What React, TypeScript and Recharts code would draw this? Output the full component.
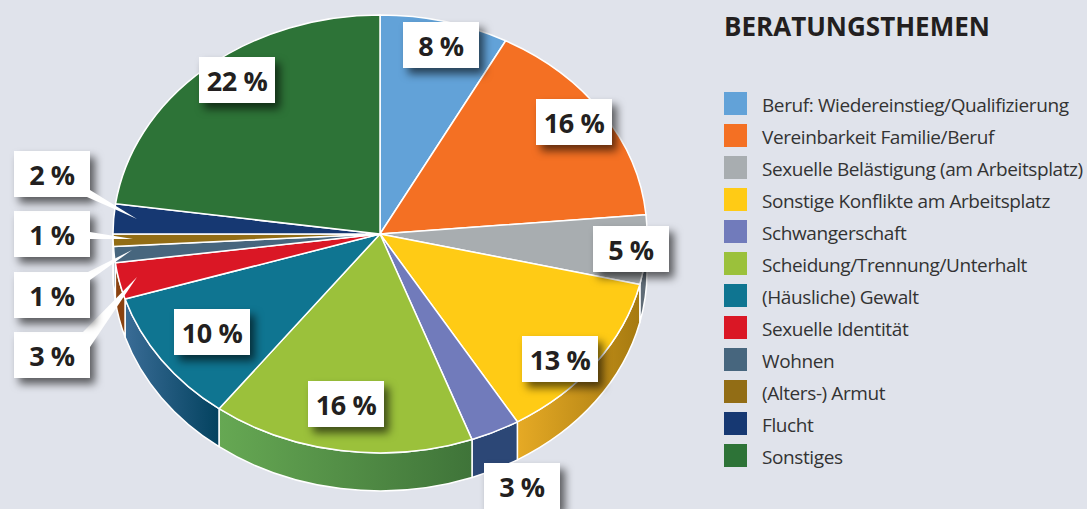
import React from "react";
import { PieChart, Pie, Legend } from "recharts";

const categories = [
  "Beruf: Wiedereinstieg/Qualifizierung",
  "Vereinbarkeit Familie/Beruf",
  "Sexuelle Belästigung (am Arbeitsplatz)",
  "Sonstige Konflikte am Arbeitsplatz",
  "Schwangerschaft",
  "Scheidung/Trennung/Unterhalt",
  "(Häusliche) Gewalt",
  "Sexuelle Identität",
  "Wohnen",
  "(Alters-) Armut",
  "Flucht",
  "Sonstiges",
];
const shares = [7.8, 15.8, 5.1, 12.7, 3, 15.9, 9.9, 2.7, 1.2, 0.9, 2.2, 22.8];
// Printed labels
const printed = ["8 %", "16 %", "5 %", "13 %", "3 %", "16 %", "10 %", "3 %", "1 %", "1 %", "2 %", "22 %"];

const topColors = ["#62A2D8", "#F47023", "#A8ADB0", "#FFCB15", "#717BBB", "#9BC13B", "#0F7591", "#DA1725", "#47667E", "#926D15", "#163872", "#2D7337"];
const wallFrom = ["#62A2D8", "#F47023", "#5F6B76", "#E6AA25", "#2C4776", "#66A853", "#3A6C96", "#8A4210", "#47667E", "#926D15", "#163872", "#2D7337"];
const wallTo = ["#62A2D8", "#F47023", "#5F6B76", "#A67A10", "#2C4776", "#3F7439", "#03425F", "#8A4210", "#47667E", "#926D15", "#163872", "#2D7337"];

// Label box top-left corners
const labelBoxes: [number, number][] = [
  [403, 22], [536, 99], [593, 226], [522, 336], [484, 463], [308, 381],
  [174, 309], [14, 332], [14, 272], [14, 211], [14, 151], [199, 57],
];
// White pointers from outside boxes into thin slices
const pointers: Record<number, string> = {
  7: "83,332 90,347 137,277",
  8: "88,272 90,280 132,250",
  9: "90,232 90,239 133,239",
  10: "87,197 90,190 137,219",
};

const BOX_W = 76;
const BOX_H = 46;
const CX = 380;
const CY = 234;
const RX = 267;
const RY = 219;
const DEPTH = 38;
const BG = "#E0E3EB";
const INK = "#231F20";
const FONT = "'Open Sans', sans-serif";

const tableData = categories.map((name, i) => ({ name, value: shares[i], fill: topColors[i] }));

function Slice3D(props: any) {
  const { startAngle: s, endAngle: e, cx, cy, outerRadius, index, fill } = props;
  const rx = outerRadius;
  const ry = (outerRadius * RY) / RX;
  const p = (a: number, dy = 0) => {
    const r = (a * Math.PI) / 180;
    return `${cx + rx * Math.cos(r)},${cy + dy - ry * Math.sin(r)}`;
  };
  const i = index ?? topColors.indexOf(fill);
  const large = Math.abs(s - e) > 180 ? 1 : 0;
  const wallS = Math.min(s, 0);
  const wallE = Math.max(e, -180);
  const hasWall = wallS > wallE;
  const gid = `wall-${i}`;
  return (
    <g>
      {hasWall && (
        <>
          <defs>
            <linearGradient id={gid} x1="0" y1="0" x2="1" y2="0">
              <stop offset="0" stopColor={wallFrom[i]} />
              <stop offset="1" stopColor={wallTo[i]} />
            </linearGradient>
          </defs>
          <path
            d={`M${p(wallS)} A${rx} ${ry} 0 0 1 ${p(wallE)} L${p(wallE, DEPTH)} A${rx} ${ry} 0 0 0 ${p(wallS, DEPTH)} Z`}
            fill={`url(#${gid})`}
            stroke="#fff"
            strokeWidth={1.5}
            strokeLinejoin="round"
          />
        </>
      )}
      <path
        d={`M${cx},${cy} L${p(s)} A${rx} ${ry} 0 ${large} 1 ${p(e)} Z`}
        fill={fill}
        stroke="#fff"
        strokeWidth={1.5}
        strokeLinejoin="round"
      />
    </g>
  );
}

function BoxLabel(props: any) {
  const { index } = props;
  const [x, y] = labelBoxes[index];
  return (
    <g>
      <rect
        x={x}
        y={y}
        width={BOX_W}
        height={BOX_H}
        fill="#fff"
        style={{ filter: "drop-shadow(5px 6px 4px rgba(0,0,0,0.6))" }}
      />
      {pointers[index] && <polygon points={pointers[index]} fill="#fff" />}
      <text
        x={x + BOX_W / 2}
        y={y + BOX_H / 2 + 11}
        textAnchor="middle"
        fontFamily={FONT}
        fontWeight={700}
        fontSize={27}
        letterSpacing={-0.4}
        fill={INK}
      >
        {printed[index]}
      </text>
    </g>
  );
}

function SideLegend() {
  return (
    <div style={{ position: "absolute", left: 724, top: 0, width: 363, fontFamily: FONT, color: INK }}>
      <div style={{ position: "absolute", left: 0, top: 8, fontSize: 26, fontWeight: 700, lineHeight: "36px", whiteSpace: "nowrap" }}>
        BERATUNGSTHEMEN
      </div>
      {categories.map((c, i) => (
        <div key={c} style={{ position: "absolute", left: 0, top: 92 + i * 32, height: 23, whiteSpace: "nowrap" }}>
          <span style={{ position: "absolute", left: 0, top: 0, width: 23, height: 23, background: topColors[i] }} />
          <span style={{ position: "absolute", left: 38, top: 0, fontSize: 19, lineHeight: "26px", letterSpacing: "-0.4px", color: "#333" }}>{c}</span>
        </div>
      ))}
    </div>
  );
}

export default function App() {
  return (
    <div style={{ position: "fixed", left: 0, top: 0, width: 1087, height: 509, background: BG, overflow: "hidden" }}>
      <PieChart width={1087} height={509} margin={{ top: 0, right: 0, bottom: 0, left: 0 }}>
        <Pie
          data={tableData}
          dataKey="value"
          nameKey="name"
          cx={CX}
          cy={CY}
          innerRadius={0}
          outerRadius={RX}
          startAngle={90}
          endAngle={-270}
          isAnimationActive={false}
          shape={Slice3D}
          activeShape={Slice3D}
          inactiveShape={Slice3D}
          label={BoxLabel}
          labelLine={false}
        />
        <Legend content={SideLegend} wrapperStyle={{ position: "absolute", left: 0, top: 0, width: 0, height: 0 }} />
      </PieChart>
    </div>
  );
}
